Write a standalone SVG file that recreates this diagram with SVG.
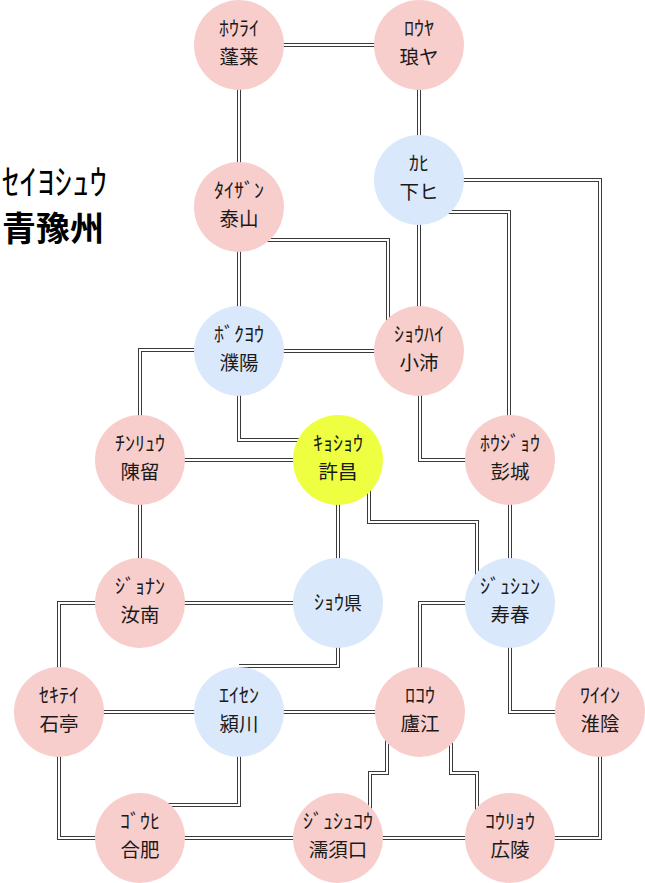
<svg xmlns="http://www.w3.org/2000/svg" xmlns:xlink="http://www.w3.org/1999/xlink" width="645" height="883" viewBox="0 0 645 883">
<style>
.o{fill:none;stroke:#3a3a3a;stroke-width:4;stroke-linejoin:miter}
.i{fill:none;stroke:#ffffff;stroke-width:2;stroke-linejoin:miter}
.pink{fill:#F8CECC}
.blue{fill:#DAE8FC}
.yel{fill:#EEFF41}
text{font-family:"Noto Sans CJK JP","Noto Sans",sans-serif;fill:#1a1a1a;text-anchor:middle}
.k{font-size:20px}
.n{font-size:19.5px}
</style>
<defs>
<path id="e1" d="M239,45 H419"/>
<path id="e2" d="M239,45 V207"/>
<path id="e3" d="M419,45 V180"/>
<path id="e4" d="M239,207 V351"/>
<path id="e5" d="M239,240 H388 V351"/>
<path id="e6" d="M419,180 V351"/>
<path id="e7" d="M419,180 H600 V712"/>
<path id="e8" d="M419,212 H509 V460"/>
<path id="e9" d="M239,351 H419"/>
<path id="e10" d="M239,350 H140 V460"/>
<path id="e11" d="M239,351 V440 H338"/>
<path id="e12" d="M140,460 H338"/>
<path id="e13" d="M420,351 V460 H510"/>
<path id="e14" d="M140,460 V603"/>
<path id="e15" d="M338,460 V603"/>
<path id="e16" d="M369,460 V522 H477 V603"/>
<path id="e17" d="M510,460 V603"/>
<path id="e18" d="M140,603 H338"/>
<path id="e19" d="M140,603 H59 V712"/>
<path id="e20" d="M338,603 V666 H239"/>
<path id="e21" d="M510,603 H420 V712"/>
<path id="e22" d="M510,603 V712 H600"/>
<path id="e23" d="M59,712 H239"/>
<path id="e24" d="M239,712 H420"/>
<path id="e25" d="M59,712 V838 H140"/>
<path id="e26" d="M140,838 H338"/>
<path id="e27" d="M338,838 H510"/>
<path id="e28" d="M510,838 H600 V712"/>
<path id="e29" d="M239,712 V805 H140"/>
<path id="e30" d="M387,712 V773 H370 V838"/>
<path id="e31" d="M451,712 V773 H477 V838"/>
</defs>
<g id="connectors">
<use xlink:href="#e1" class="o"/><use xlink:href="#e1" class="i"/>
<use xlink:href="#e2" class="o"/><use xlink:href="#e2" class="i"/>
<use xlink:href="#e3" class="o"/><use xlink:href="#e3" class="i"/>
<use xlink:href="#e4" class="o"/><use xlink:href="#e4" class="i"/>
<use xlink:href="#e5" class="o"/><use xlink:href="#e5" class="i"/>
<use xlink:href="#e6" class="o"/><use xlink:href="#e6" class="i"/>
<use xlink:href="#e7" class="o"/><use xlink:href="#e7" class="i"/>
<use xlink:href="#e8" class="o"/><use xlink:href="#e8" class="i"/>
<use xlink:href="#e9" class="o"/><use xlink:href="#e9" class="i"/>
<use xlink:href="#e10" class="o"/><use xlink:href="#e10" class="i"/>
<use xlink:href="#e11" class="o"/><use xlink:href="#e11" class="i"/>
<use xlink:href="#e12" class="o"/><use xlink:href="#e12" class="i"/>
<use xlink:href="#e13" class="o"/><use xlink:href="#e13" class="i"/>
<use xlink:href="#e14" class="o"/><use xlink:href="#e14" class="i"/>
<use xlink:href="#e15" class="o"/><use xlink:href="#e15" class="i"/>
<use xlink:href="#e16" class="o"/><use xlink:href="#e16" class="i"/>
<use xlink:href="#e17" class="o"/><use xlink:href="#e17" class="i"/>
<use xlink:href="#e18" class="o"/><use xlink:href="#e18" class="i"/>
<use xlink:href="#e19" class="o"/><use xlink:href="#e19" class="i"/>
<use xlink:href="#e20" class="o"/><use xlink:href="#e20" class="i"/>
<use xlink:href="#e21" class="o"/><use xlink:href="#e21" class="i"/>
<use xlink:href="#e22" class="o"/><use xlink:href="#e22" class="i"/>
<use xlink:href="#e23" class="o"/><use xlink:href="#e23" class="i"/>
<use xlink:href="#e24" class="o"/><use xlink:href="#e24" class="i"/>
<use xlink:href="#e25" class="o"/><use xlink:href="#e25" class="i"/>
<use xlink:href="#e26" class="o"/><use xlink:href="#e26" class="i"/>
<use xlink:href="#e27" class="o"/><use xlink:href="#e27" class="i"/>
<use xlink:href="#e28" class="o"/><use xlink:href="#e28" class="i"/>
<use xlink:href="#e29" class="o"/><use xlink:href="#e29" class="i"/>
<use xlink:href="#e30" class="o"/><use xlink:href="#e30" class="i"/>
<use xlink:href="#e31" class="o"/><use xlink:href="#e31" class="i"/>
</g>
<g id="title">
<text x="2" y="195" style="font-size:35px;text-anchor:start;fill:#000">ｾｲﾖｼｭｳ</text>
<text x="2" y="241" style="font-size:34px;font-weight:bold;text-anchor:start;fill:#000">青豫州</text>
</g>
<g id="horai"><circle cx="239" cy="45" r="45" class="pink"/><text x="239" y="36" class="k">ﾎｳﾗｲ</text><text x="239" y="64" class="n">蓬莱</text></g>
<g id="roya"><circle cx="419" cy="45" r="45" class="pink"/><text x="419" y="36" class="k">ﾛｳﾔ</text><text x="419" y="64" class="n">琅ヤ</text></g>
<g id="taizan"><circle cx="239" cy="207" r="45" class="pink"/><text x="239" y="198" class="k">ﾀｲｻﾞﾝ</text><text x="239" y="226" class="n">泰山</text></g>
<g id="kahi"><circle cx="419" cy="180" r="45" class="blue"/><text x="419" y="171" class="k">ｶﾋ</text><text x="419" y="199" class="n">下ヒ</text></g>
<g id="bokuyo"><circle cx="239" cy="351" r="45" class="blue"/><text x="239" y="342" class="k">ﾎﾞｸﾖｳ</text><text x="239" y="370" class="n">濮陽</text></g>
<g id="shohai"><circle cx="419" cy="351" r="45" class="pink"/><text x="419" y="342" class="k">ｼｮｳﾊｲ</text><text x="419" y="370" class="n">小沛</text></g>
<g id="chinryu"><circle cx="140" cy="460" r="45" class="pink"/><text x="140" y="451" class="k">ﾁﾝﾘｭｳ</text><text x="140" y="479" class="n">陳留</text></g>
<g id="kyosho"><circle cx="338" cy="460" r="45" class="yel"/><text x="338" y="451" class="k">ｷｮｼｮｳ</text><text x="338" y="479" class="n">許昌</text></g>
<g id="hojo"><circle cx="510" cy="460" r="45" class="pink"/><text x="510" y="451" class="k">ﾎｳｼﾞｮｳ</text><text x="510" y="479" class="n">彭城</text></g>
<g id="jonan"><circle cx="140" cy="603" r="45" class="pink"/><text x="140" y="594" class="k">ｼﾞｮﾅﾝ</text><text x="140" y="622" class="n">汝南</text></g>
<g id="shoken"><circle cx="338" cy="603" r="45" class="blue"/><text x="338" y="610" class="k">ｼｮｳ<tspan style="font-size:18px">県</tspan></text></g>
<g id="jushun"><circle cx="510" cy="603" r="45" class="blue"/><text x="510" y="594" class="k">ｼﾞｭｼｭﾝ</text><text x="510" y="622" class="n">寿春</text></g>
<g id="sekitei"><circle cx="59" cy="712" r="45" class="pink"/><text x="59" y="703" class="k">ｾｷﾃｲ</text><text x="59" y="731" class="n">石亭</text></g>
<g id="eisen"><circle cx="239" cy="712" r="45" class="blue"/><text x="239" y="703" class="k">ｴｲｾﾝ</text><text x="239" y="731" class="n">潁川</text></g>
<g id="roko"><circle cx="420" cy="712" r="45" class="pink"/><text x="420" y="703" class="k">ﾛｺｳ</text><text x="420" y="731" class="n">廬江</text></g>
<g id="wain"><circle cx="600" cy="712" r="45" class="pink"/><text x="600" y="703" class="k">ﾜｲｲﾝ</text><text x="600" y="731" class="n">淮陰</text></g>
<g id="gohi"><circle cx="140" cy="838" r="45" class="pink"/><text x="140" y="829" class="k">ｺﾞｳﾋ</text><text x="140" y="857" class="n">合肥</text></g>
<g id="jushuko"><circle cx="338" cy="838" r="45" class="pink"/><text x="338" y="829" class="k">ｼﾞｭｼｭｺｳ</text><text x="338" y="857" class="n">濡須口</text></g>
<g id="koryo"><circle cx="510" cy="838" r="45" class="pink"/><text x="510" y="829" class="k">ｺｳﾘｮｳ</text><text x="510" y="857" class="n">広陵</text></g>
</svg>
